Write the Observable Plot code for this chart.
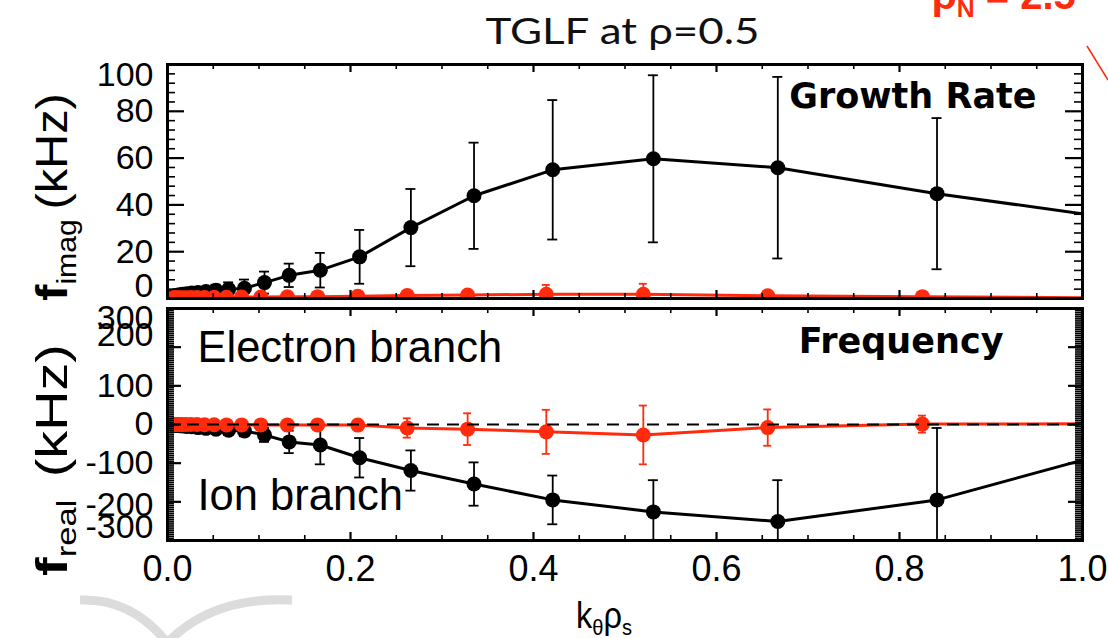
<!DOCTYPE html>
<html>
<head>
<meta charset="utf-8">
<script src="https://cdn.jsdelivr.net/npm/d3@7"></script>
<script src="https://cdn.jsdelivr.net/npm/@observablehq/plot@0.6"></script>
<style>
  body { margin: 0; background: #fff; }
  #chart { position: relative; width: 1108px; height: 638px; overflow: hidden; font-family: "Liberation Sans", Arial, sans-serif; }
  #chart > svg { position: absolute; left: 0; }
  .note { position: absolute; white-space: nowrap; line-height: 1; }
  .note sub { font-size: 0.62em; vertical-align: -0.32em; line-height: 0; }
</style>
</head>
<body>
<div id="chart"></div>
<script>
// ---- TGLF scan at rho = 0.5: wavenumber grids (k_theta rho_s) ----
const kIon  = [0.0066, 0.0084, 0.0105, 0.0133, 0.0167, 0.021, 0.0265, 0.0334, 0.042, 0.053, 0.0668, 0.0841,
               0.106, 0.133, 0.167, 0.210, 0.266, 0.335, 0.421, 0.531, 0.667, 0.841];
const kElec = [0.0064, 0.0081, 0.0102, 0.0128, 0.0162, 0.0203, 0.0256, 0.0323, 0.0405, 0.051, 0.0645, 0.081,
               0.102, 0.131, 0.164, 0.208, 0.262, 0.328, 0.414, 0.520, 0.656, 0.825];

// Growth rate f_imag (kHz) with uncertainty
const growthIon     = [1.0, 1.2, 1.4, 1.6, 1.8, 2.0, 2.3, 2.6, 3.0, 3.5, 3.9, 4.4,
                       6.8, 9.9, 12.1, 17.8, 30.3, 43.9, 55.0, 59.7, 55.9, 44.8];
const growthIonErr  = [0.4, 0.5, 0.6, 0.7, 0.8, 1.0, 1.2, 1.5, 1.8, 2.4, 3.0, 3.7,
                       4.7, 5.0, 7.4, 11.5, 16.5, 22.7, 29.8, 35.7, 38.8, 32.3];
const growthElec    = [0.3, 0.3, 0.3, 0.3, 0.3, 0.3, 0.4, 0.4, 0.4, 0.5, 0.5, 0.6,
                       0.6, 0.7, 0.8, 1.0, 1.3, 1.5, 1.8, 1.8, 1.2, 0.8];
const growthElecErr = [0.1, 0.1, 0.1, 0.1, 0.1, 0.2, 0.2, 0.2, 0.2, 0.3, 0.3, 0.3,
                       0.4, 0.4, 0.5, 0.6, 0.8, 1.5, 4.0, 4.5, 1.0, 0.5];

// Real frequency f_real (kHz) with uncertainty
const freqIon     = [-1.5, -2, -2.5, -3, -4, -5, -6, -8, -10, -12, -15, -16.5,
                     -27, -45, -53, -86, -119, -154, -195, -226, -251, -195];
const freqIonErr  = [1, 1.5, 2, 2.5, 3, 3.5, 4, 5, 7, 9, 12, 14,
                     18, 29, 50, 51, 52, 56, 63, 82, 107, 186];
const freqElec    = [0, 0, 0, 0, 0, 0, 0, 0, -0.5, -0.5, -1, -1,
                     -1, -1, -1, -1.5, -9, -12, -19, -27, -8, 1];
const freqElecErr = [1, 1, 1, 1, 1.5, 1.5, 2, 2, 2.5, 3, 3, 4,
                     4, 5, 6, 8, 25, 41, 57, 76, 47, 22];

// Where each curve leaves the plot at k = 1.0
const growthIonEdge = 36.2, growthElecEdge = 0.3;
const freqIonEdge = -92, freqElecEdge = 2;

// Axis tick values
const xTickLabels = [0, 0.2, 0.4, 0.6, 0.8, 1.0];
const xTickAll = d3.range(0, 21).map(i => i / 20);
const yTickTop = [0, 20, 40, 60, 80, 100];
const yTickBottom = [-300, -200, -100, 0, 100, 200, 300];

// ---- layout ----
const W = 1108, ML = 167, MR = 26;
const innerW = W - ML - MR;
const RED = "#ff2b0c";
const SANS = "'Liberation Sans', Arial, sans-serif";
const NARROW = "'Liberation Sans Narrow', 'Liberation Sans', Arial, sans-serif";
const HEAVY = "'DejaVu Sans', Verdana, sans-serif";
const chart = document.getElementById("chart");

function table(k, v, e) {
  return k.map((x, i) => ({k: x, v: v[i], lo: v[i] - e[i], hi: v[i] + e[i]}));
}

function series(rows, edge, color, cap) {
  const path = [...rows, {k: 1, v: edge}];
  return [
    Plot.ruleX(rows, {x: "k", y1: "lo", y2: "hi", stroke: color, strokeWidth: 1.8, clip: true}),
    Plot.ruleY(rows, {y: "hi", x1: "k", x2: "k", insetLeft: -cap, insetRight: -cap, stroke: color, strokeWidth: 1.8, clip: true}),
    Plot.ruleY(rows, {y: "lo", x1: "k", x2: "k", insetLeft: -cap, insetRight: -cap, stroke: color, strokeWidth: 1.8, clip: true}),
    Plot.line(path, {x: "k", y: "v", stroke: color, strokeWidth: 3, clip: true}),
    Plot.dot(rows, {x: "k", y: "v", r: 7.5, fill: color, clip: true})
  ];
}

// inward ticks on all four sides of a panel
function frameTicks(yMajor, yMinor, majorLen, minorLen, innerH) {
  const xMajor = xTickAll.filter((d, i) => i % 4 === 0);
  const xMinor = xTickAll.filter((d, i) => i % 4 !== 0);
  return [
    Plot.tickY(yMajor, {y: d => d, insetRight: innerW - majorLen, strokeWidth: 2.2}),
    Plot.tickY(yMajor, {y: d => d, insetLeft: innerW - majorLen, strokeWidth: 2.2}),
    Plot.tickY(yMinor, {y: d => d, insetRight: innerW - minorLen, strokeWidth: 1.6}),
    Plot.tickY(yMinor, {y: d => d, insetLeft: innerW - minorLen, strokeWidth: 1.6}),
    Plot.tickX(xMajor, {x: d => d, insetBottom: innerH - 8, strokeWidth: 2.2}),
    Plot.tickX(xMajor, {x: d => d, insetTop: innerH - 8, strokeWidth: 2.2}),
    Plot.tickX(xMinor, {x: d => d, insetBottom: innerH - 5, strokeWidth: 1.6}),
    Plot.tickX(xMinor, {x: d => d, insetTop: innerH - 5, strokeWidth: 1.6})
  ];
}

function yLabels(values, dy) {
  return Plot.text(values, {y: d => d, text: d => String(d), frameAnchor: "left", dx: -14, dy,
    textAnchor: "end", fontSize: 34, fontFamily: NARROW, fill: "#000"});
}

// ---- growth rate panel ----
const topH = 300, topMT = 64, topMB = 2;
const topPlot = Plot.plot({
  width: W, height: topH, marginLeft: ML, marginRight: MR, marginTop: topMT, marginBottom: topMB,
  x: {domain: [0, 1], axis: null},
  y: {domain: [0, 100], axis: null},
  style: {background: "transparent", overflow: "visible", fontFamily: SANS},
  marks: [
    ...series(table(kIon, growthIon, growthIonErr), growthIonEdge, "#000", 5),
    ...series(table(kElec, growthElec, growthElecErr), growthElecEdge, RED, 4),
    ...frameTicks(yTickTop, d3.range(0, 101, 4).filter(d => d % 20 !== 0), 17, 8, topH - topMT - topMB),
    yLabels([100], 11),
    yLabels([20, 40, 60, 80], 0),
    yLabels([0], -12),
    Plot.text(["Growth Rate"], {text: d => d, frameAnchor: "top-right", dx: -46, dy: 43, textAnchor: "end",
      lineAnchor: "bottom", fontSize: 35, fontWeight: "bold", fontFamily: HEAVY, fill: "#000"}),
    Plot.frame({stroke: "#000", strokeWidth: 3})
  ]
});
topPlot.style.top = "0px";
chart.appendChild(topPlot);

// ---- real frequency panel ----
const botH = 338, botMT = 8, botMB = 98;
const botPlot = Plot.plot({
  width: W, height: botH, marginLeft: ML, marginRight: MR, marginTop: botMT, marginBottom: botMB,
  x: {domain: [0, 1], axis: null},
  y: {domain: [-300, 300], axis: null},
  style: {background: "transparent", overflow: "visible", fontFamily: SANS},
  marks: [
    ...series(table(kIon, freqIon, freqIonErr), freqIonEdge, "#000", 5),
    ...series(table(kElec, freqElec, freqElecErr), freqElecEdge, RED, 4),
    Plot.ruleY([0], {stroke: "#000", strokeWidth: 2, strokeDasharray: "12,8"}),
    ...frameTicks(yTickBottom, d3.range(-300, 301, 5).filter(d => d % 100 !== 0), 14, 7, botH - botMT - botMB),
    yLabels([300], 10),
    yLabels([200], -12),
    yLabels([100, 0, -100], 0),
    yLabels([-200], 3),
    yLabels([-300], -13),
    Plot.text(xTickLabels, {x: d => d, text: d => d.toFixed(1), frameAnchor: "bottom", dy: 40,
      fontSize: 36, fontFamily: NARROW, fill: "#000"}),
    Plot.text(["Frequency"], {text: d => d, frameAnchor: "top-right", dx: -79, dy: 44, textAnchor: "end",
      lineAnchor: "bottom", fontSize: 35, fontWeight: "bold", fontFamily: HEAVY, fill: "#000"}),
    Plot.text(["Electron branch"], {text: d => d, frameAnchor: "top-left", dx: 30, dy: 53, textAnchor: "start",
      lineAnchor: "bottom", fontSize: 43.5, fontFamily: SANS, fill: "#000"}),
    Plot.text(["Ion branch"], {text: d => d, frameAnchor: "top-left", dx: 30, dy: 201, textAnchor: "start",
      lineAnchor: "bottom", fontSize: 43.5, fontFamily: SANS, fill: "#000"}),
    Plot.frame({stroke: "#000", strokeWidth: 3})
  ]
});
botPlot.style.top = "300px";
chart.appendChild(botPlot);

// ---- titles and annotations ----
function note(html, css) {
  const d = document.createElement("div");
  d.className = "note";
  d.innerHTML = html;
  Object.assign(d.style, css);
  chart.appendChild(d);
  return d;
}
// place a note centred on (cx, cy), stretched along its text to a given length
function fit(el, cx, cy, length, rotate) {
  const w = el.offsetWidth, h = el.offsetHeight;
  el.style.left = (cx - w / 2) + "px";
  el.style.top = (cy - h / 2) + "px";
  el.style.transformOrigin = "50% 50%";
  el.style.transform = (rotate ? "rotate(-90deg) " : "") + `scaleX(${length / w})`;
}

fit(note("TGLF at ρ=0.5", {fontFamily: "Lato, sans-serif", fontSize: "37px", color: "#111"}), 622, 29, 274, false);

fit(note("<b>f</b><sub>imag</sub>&thinsp;(kHz)", {fontSize: "44px", color: "#000"}), 52, 197, 208, true);
fit(note("<b>f</b><sub>real</sub>&thinsp;&thinsp;(kHz)", {fontSize: "44px", color: "#000"}), 52, 460, 232, true);

fit(note("k<sub>θ</sub>ρ<sub>s</sub>", {fontFamily: NARROW, fontSize: "36px", color: "#000"}), 604, 616, 56, false);

note("ρ<sub>N</sub> = 2.5", {left: "932px", top: "-25px", fontSize: "40px", fontWeight: "bold", color: RED});

// pointer line and faint logo
const deco = d3.select(chart).append("svg")
  .attr("width", W).attr("height", 638)
  .style("position", "absolute").style("left", "0px").style("top", "0px").style("pointer-events", "none");
deco.append("line").attr("x1", 1087).attr("y1", 46).attr("x2", 1108).attr("y2", 80)
  .attr("stroke", RED).attr("stroke-width", 1.5);
deco.append("path").attr("d", "M80,600 Q130,598 165,640").attr("fill", "none").attr("stroke", "#dcdcdc").attr("stroke-width", 9);
deco.append("path").attr("d", "M170,640 Q215,596 292,600").attr("fill", "none").attr("stroke", "#dcdcdc").attr("stroke-width", 9);
</script>
</body>
</html>
